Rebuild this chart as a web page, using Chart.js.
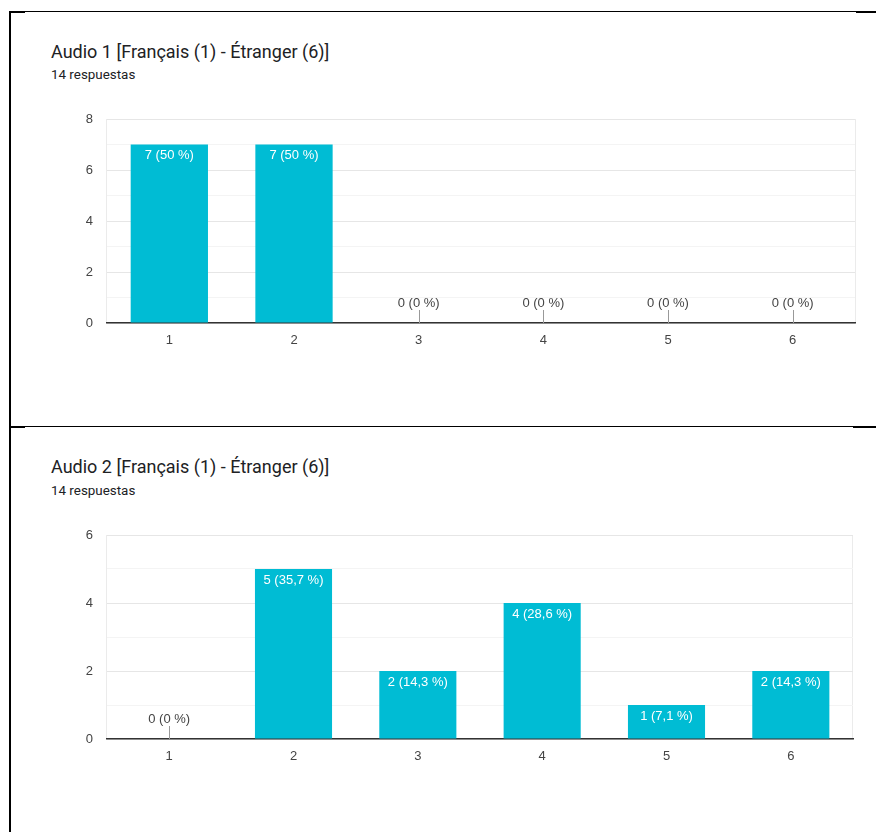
<!DOCTYPE html>
<html>
<head>
<meta charset="utf-8">
<script src="https://cdn.jsdelivr.net/npm/chart.js@4/dist/chart.umd.min.js"></script>
<style>
  body { margin: 0; background: #fff; width: 876px; height: 832px; position: relative; overflow: hidden; }
  .line { position: absolute; background: #000; }
  .titulo { position: absolute; left: 51px; font-family: Roboto, sans-serif; font-size: 18px; line-height: 22px; color: #202124; white-space: nowrap; }
  .sub { position: absolute; left: 51px; font-family: Roboto, sans-serif; font-size: 13.4px; line-height: 16px; color: #202124; }
  .caja { position: absolute; left: 40px; width: 830px; height: 250px; }
</style>
</head>
<body>
<!-- bordes del recorte -->
<div class="line" style="left:9px;top:11px;width:2px;height:821px"></div>
<div class="line" style="left:9px;top:11px;width:16px;height:2px"></div>
<div class="line" style="left:9px;top:11px;width:847px;height:1px"></div>
<div class="line" style="left:856px;top:11px;width:20px;height:2px"></div>
<div class="line" style="left:9px;top:426px;width:16px;height:2px"></div>
<div class="line" style="left:9px;top:426px;width:844px;height:1px"></div>
<div class="line" style="left:853px;top:426px;width:23px;height:2px"></div>

<div class="titulo" style="top:41px">Audio 1 [Français (1) - Étranger (6)]</div>
<div class="sub" style="top:67px">14 respuestas</div>
<div class="caja" style="top:105px"><canvas id="graficoAudio1"></canvas></div>

<div class="titulo" style="top:456px">Audio 2 [Français (1) - Étranger (6)]</div>
<div class="sub" style="top:483px">14 respuestas</div>
<div class="caja" style="top:521px"><canvas id="graficoAudio2"></canvas></div>

<script>
const categorias = ['1', '2', '3', '4', '5', '6'];
const audio1Respuestas = [7, 7, 0, 0, 0, 0];
const audio2Respuestas = [0, 5, 2, 4, 1, 2];
const audio1MaxY = 8;
const audio2MaxY = 6;
const pasoEtiquetas = 2;

const colorBarra = '#00bcd4';
const fuenteEjes = { family: '"Liberation Sans", Arial, sans-serif', size: 13 };

function textoBarra(valor, total) {
  let pct = (valor / total * 100).toFixed(1).replace('.', ',');
  if (pct.endsWith(',0')) pct = pct.slice(0, -2);
  return valor + ' (' + pct + ' %)';
}

// etiquetas encima / dentro de cada barra
const etiquetasBarras = {
  id: 'etiquetasBarras',
  afterDatasetsDraw(chart) {
    const ctx = chart.ctx;
    const datos = chart.data.datasets[0].data;
    const total = datos.reduce((a, b) => a + b, 0);
    const meta = chart.getDatasetMeta(0);
    ctx.save();
    ctx.font = '13px "Liberation Sans", Arial, sans-serif';
    ctx.textAlign = 'center';
    ctx.textBaseline = 'middle';
    meta.data.forEach((barra, i) => {
      const v = datos[i];
      const txt = textoBarra(v, total);
      if (v > 0) {
        ctx.fillStyle = '#ffffff';
        ctx.fillText(txt, barra.x, barra.y + 11);
      } else {
        ctx.fillStyle = '#444';
        ctx.fillText(txt, barra.x, barra.base - 20);
        ctx.strokeStyle = '#999';
        ctx.lineWidth = 1;
        ctx.beginPath();
        ctx.moveTo(Math.round(barra.x) + 0.5, barra.base - 13);
        ctx.lineTo(Math.round(barra.x) + 0.5, barra.base);
        ctx.stroke();
      }
    });
    ctx.restore();
  }
};

function crearGrafico(canvas, valores, maxY, padDerecha) {
  return new Chart(canvas, {
    type: 'bar',
    data: {
      labels: categorias,
      datasets: [{
        data: valores,
        backgroundColor: colorBarra,
        borderWidth: 0,
        barPercentage: 0.62,
        categoryPercentage: 1
      }]
    },
    options: {
      responsive: true,
      maintainAspectRatio: false,
      animation: false,
      layout: { padding: { top: 14, right: padDerecha, left: 0, bottom: 0 } },
      plugins: { legend: { display: false }, tooltip: { enabled: false } },
      scales: {
        x: {
          afterFit: (s) => { s.height = 32; },
          grid: {
            offset: true,
            drawTicks: false,
            color: (c) => (c.type === 'scale' || c.index === 0) ? '#ebebeb' : 'rgba(0,0,0,0)'
          },
          border: { color: '#333', width: 1.5 },
          ticks: { color: '#444', font: fuenteEjes, padding: 10 }
        },
        y: {
          min: 0,
          max: maxY,
          afterFit: (s) => { s.width = 67; s.paddingTop = 0; s.paddingBottom = 0; },
          border: { display: false },
          grid: {
            drawTicks: false,
            color: (c) => (c.tick && c.tick.value % pasoEtiquetas !== 0) ? '#f4f4f4' : '#e6e6e6'
          },
          ticks: {
            stepSize: 1,
            autoSkip: false,
            color: '#444',
            font: fuenteEjes,
            padding: 14,
            callback: (v) => v % pasoEtiquetas === 0 ? v : ''
          }
        }
      }
    },
    plugins: [etiquetasBarras]
  });
}

crearGrafico(document.getElementById('graficoAudio1'), audio1Respuestas, audio1MaxY, 15);
crearGrafico(document.getElementById('graficoAudio2'), audio2Respuestas, audio2MaxY, 17);
</script>
</body>
</html>
